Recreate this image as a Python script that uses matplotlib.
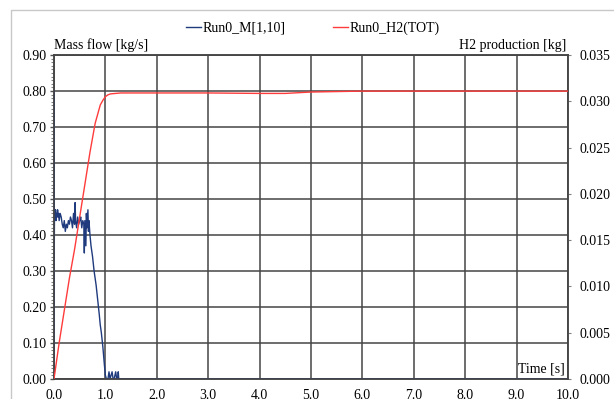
#!/usr/bin/env python3
"""Mass flow and H2 production over time for Run0."""

import matplotlib
matplotlib.use("Agg")
import matplotlib.pyplot as plt
from matplotlib.lines import Line2D
from matplotlib.ticker import MultipleLocator, FormatStrFormatter

# Run0_M[1,10] : mass flow [kg/s]
flow_t = [0.00, 0.003, 0.006, 0.01, 0.02, 0.03, 0.04, 0.05, 0.06, 0.07, 0.08, 0.09,
          0.10, 0.12, 0.14, 0.16, 0.18, 0.20, 0.22, 0.24, 0.26, 0.28, 0.30, 0.32,
          0.34, 0.36, 0.38, 0.40, 0.41, 0.42, 0.44, 0.46, 0.48, 0.50, 0.52, 0.54,
          0.56, 0.58, 0.59, 0.60, 0.62, 0.63, 0.64, 0.66, 0.67, 0.68, 0.70, 0.72,
          0.75, 0.78, 0.80, 0.82, 0.85, 0.88, 0.90, 0.92, 0.95, 0.98, 1.00, 1.02,
          1.05, 1.07, 1.09, 1.11, 1.13, 1.15, 1.17, 1.20, 1.22, 1.24, 1.25, 1.26,
          10.0]
flow_v = [0.00, 0.80, 0.38, 0.47, 0.45, 0.47, 0.44, 0.46, 0.45, 0.47, 0.45, 0.46,
          0.44, 0.46, 0.45, 0.43, 0.42, 0.44, 0.41, 0.43, 0.42, 0.44, 0.43, 0.45,
          0.44, 0.42, 0.46, 0.43, 0.49, 0.44, 0.42, 0.45, 0.43, 0.44, 0.45, 0.42,
          0.44, 0.43, 0.35, 0.44, 0.37, 0.46, 0.42, 0.47, 0.41, 0.44, 0.40, 0.37,
          0.34, 0.30, 0.28, 0.26, 0.22, 0.18, 0.15, 0.13, 0.09, 0.04, 0.01, 0.00,
          0.00, 0.02, 0.00, 0.01, 0.02, 0.00, 0.00, 0.02, 0.00, 0.00, 0.02, 0.00,
          0.00]

# Run0_H2(TOT) : cumulated H2 production [kg]
h2_t = [0.0, 0.1, 0.2, 0.3, 0.4, 0.5, 0.6, 0.7, 0.8, 0.9, 0.95, 1.0, 1.05, 1.1,
        1.3, 2.0, 3.0, 4.0, 4.5, 5.0, 5.5, 6.0, 7.0, 8.0, 9.0, 10.0]
h2_v = [0.0, 0.0039, 0.0074, 0.0109, 0.0140, 0.0175, 0.0210, 0.0245, 0.0276,
        0.0296, 0.0301, 0.0305, 0.0307, 0.0308, 0.0309, 0.0309, 0.0309, 0.03085,
        0.03085, 0.0310, 0.03105, 0.0311, 0.0311, 0.0311, 0.0311, 0.0311]

plt.rcParams['font.family'] = ['Liberation Serif', 'DejaVu Serif']
plt.rcParams['font.size'] = 10

fig = plt.figure(figsize=(6.14, 3.99), dpi=100)
ax = fig.add_axes([54 / 614, 1 - 379 / 399, 514 / 614, 324 / 399])
ax2 = ax.twinx()

# light frame around the figure
fig.add_artist(Line2D([11 / 614, 11 / 614, 1.0], [0.0, 1 - 10 / 399, 1 - 10 / 399],
                      transform=fig.transFigure, color='#c8c8c8', lw=1.0))

blue = '#1f3b7d'
red = '#ff3b3b'
l1, = ax.plot(flow_t, flow_v, color=blue, lw=1.0, zorder=3)
l2, = ax2.plot(h2_t, h2_v, color=red, lw=1.0, zorder=3)

ax.set_xlim(0, 10)
ax.set_ylim(0, 0.9)
ax2.set_ylim(0, 0.035)

ax.xaxis.set_major_locator(MultipleLocator(1.0))
ax.xaxis.set_major_formatter(FormatStrFormatter('%.1f'))
ax.yaxis.set_major_locator(MultipleLocator(0.1))
ax.yaxis.set_minor_locator(MultipleLocator(0.01))
ax.yaxis.set_major_formatter(FormatStrFormatter('%.2f'))
ax2.yaxis.set_major_locator(MultipleLocator(0.005))
ax2.yaxis.set_major_formatter(FormatStrFormatter('%.3f'))

ax.grid(True, which='major', color='#454545', lw=1.1)
ax.set_axisbelow(True)

ax.tick_params(axis='x', length=0, pad=7)
ax.tick_params(axis='y', which='major', length=3, width=1, color='#505050', pad=2.5)
ax.tick_params(axis='y', which='minor', length=2.2, width=0.8, color='#808080')
ax2.tick_params(axis='y', length=2.2, width=0.8, color='#808080', pad=6.3)

for a in (ax, ax2):
    for s in a.spines.values():
        s.set_color('#454545')
        s.set_linewidth(1.1)

ax.text(0.0, 1.008, 'Mass flow [kg/s]', transform=ax.transAxes, ha='left', va='bottom')
ax.text(0.996, 1.008, 'H2 production [kg]', transform=ax.transAxes, ha='right', va='bottom')
ax.text(0.994, 0.012, 'Time [s]', transform=ax.transAxes, ha='right', va='bottom')

fig.legend([l1, l2], ['Run0_M[1,10]', 'Run0_H2(TOT)'], loc='center',
           bbox_to_anchor=(313 / 614, 1 - 28 / 399), ncol=2, frameon=False,
           handlelength=1.1, handletextpad=0.1, columnspacing=3.4)

fig.savefig('out.png', dpi=100)
